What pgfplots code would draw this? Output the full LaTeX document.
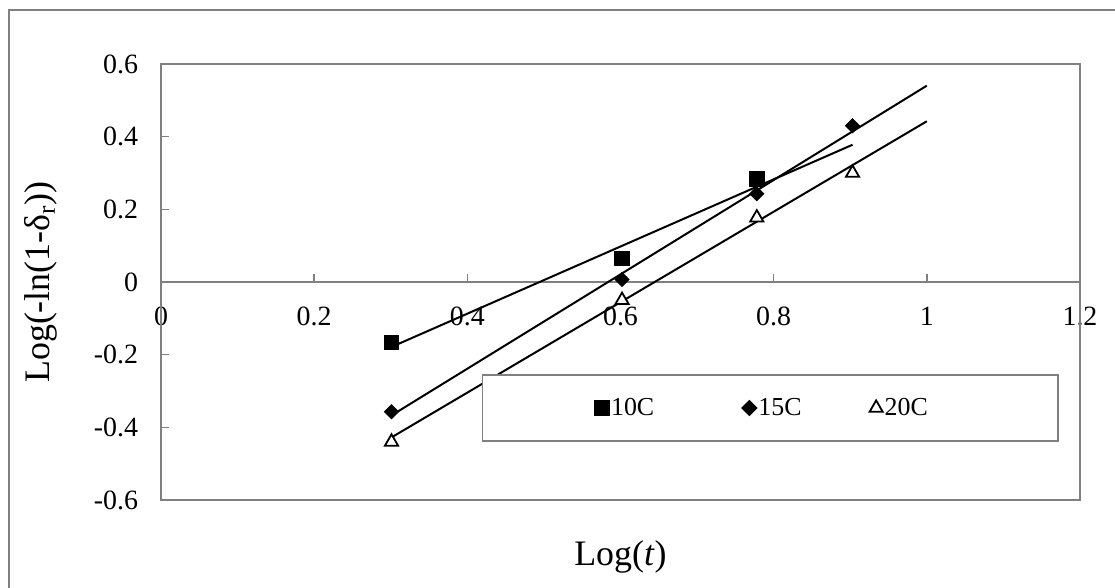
\documentclass[border=0pt]{standalone}
\usepackage{fontspec}
\setmainfont{Liberation Serif}
\usepackage{pgfplots}
\pgfplotsset{compat=1.18}
\definecolor{frame}{RGB}{128,128,128}
\begin{document}
\begin{tikzpicture}
\useasboundingbox (-80.5bp,-44bp) rectangle (477bp,250bp);
\draw[frame, line width=0.8bp] (-76bp,-44bp) -- (-76bp,245bp) -- (477bp,245bp);
\begin{axis}[
  at={(0,0)}, anchor=south west,
  scale only axis, width=459.5bp, height=218bp,
  xmin=0, xmax=1.2, ymin=-0.6, ymax=0.6,
  axis x line=middle, axis y line=left,
  axis line style={frame, line width=0.8bp, -},
  xtick={0,0.2,0.4,0.6,0.8,1,1.2},
  xticklabels={0,0.2,0.4,0.6,0.8,1,1.2},
  ytick={-0.6,-0.4,-0.2,0,0.2,0.4,0.6},
  yticklabels={-0.6,-0.4,-0.2,0,0.2,0.4,0.6},
  hide obscured x ticks=false, hide obscured y ticks=false,
  tick align=inside, major tick length=4bp,
  tick style={frame, line width=0.8bp},
  ticklabel style={font=\fontsize{14}{16}\selectfont},
  xticklabel style={yshift=-9bp},
  yticklabel style={xshift=-8bp},
  xlabel={Log(\textit{t})},
  ylabel={Log(-ln(1-δ\textsubscript{r}))},
  every axis x label/.style={at={(axis description cs:0.5,0)}, anchor=center, yshift=-28.5bp},
  every axis y label/.style={at={([xshift=-60bp]axis description cs:0,0.5)}, anchor=center, rotate=90},
  label style={font=\fontsize{18}{20}\selectfont},
  clip=false,
  legend columns=3,
  legend image code/.code={\draw[#1] plot coordinates {(0bp,0bp)};},
  legend style={at={(axis description cs:0.663,0.211)}, anchor=center,
    draw=frame, line width=0.8bp, font=\fontsize{13}{15}\selectfont,
    inner xsep=56bp, inner ysep=9.5bp,
    nodes={inner xsep=1bp},
    /tikz/column 2/.style={column sep=43bp},
    /tikz/column 4/.style={column sep=33bp}},
]
\draw[frame, line width=0.8bp] (rel axis cs:0,0) rectangle (rel axis cs:1,1);
% trend lines
\addplot[black, line width=1bp, forget plot] coordinates {(0.301,-0.1787) (0.903,0.3778)};
\addplot[black, line width=1bp, forget plot] coordinates {(0.301,-0.3672) (1.0,0.5404)};
\addplot[black, line width=1bp, forget plot] coordinates {(0.301,-0.4277) (1.0,0.4424)};
% data
\addplot[only marks, mark=square*, mark size=3.6bp, black] coordinates {(0.301,-0.166) (0.602,0.065) (0.778,0.284)};
\addlegendentry{10C}
\addplot[only marks, mark=square*, mark options={rotate=45}, mark size=2.5bp, black] coordinates {(0.301,-0.357) (0.602,0.007) (0.778,0.243) (0.903,0.430)};
\addlegendentry{15C}
\addplot[only marks, mark=triangle*, mark size=3.8bp, black, mark options={fill=white, line width=0.9bp}] coordinates {(0.301,-0.440) (0.602,-0.050) (0.778,0.177) (0.903,0.300)};
\addlegendentry{20C\rule{8bp}{0pt}}
\end{axis}
\end{tikzpicture}
\end{document}
